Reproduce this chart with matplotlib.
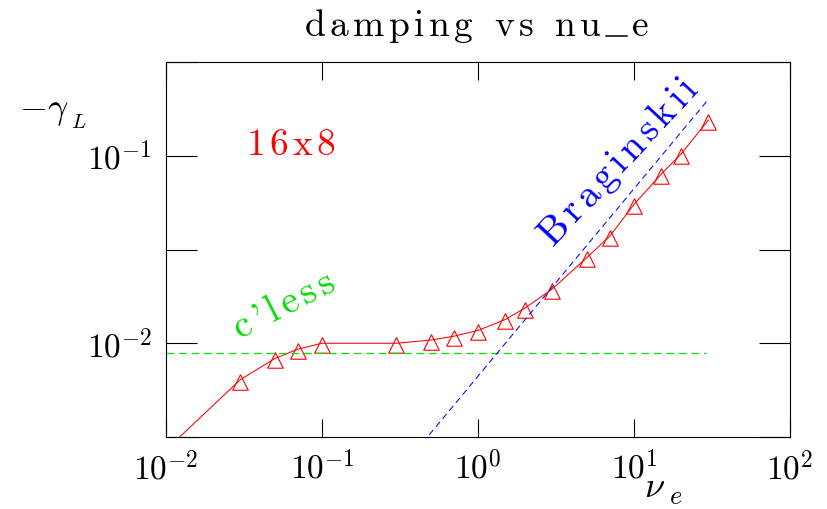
import numpy as np
import matplotlib
matplotlib.use("Agg")
import matplotlib.pyplot as plt
from matplotlib.font_manager import FontProperties, findfont, get_font
from matplotlib.transforms import IdentityTransform
from matplotlib.lines import Line2D
from matplotlib.ticker import FixedLocator, FixedFormatter, NullLocator

plt.rcParams["mathtext.fontset"] = "cm"
plt.rcParams["font.family"] = "cmr10"
plt.rcParams["axes.formatter.use_mathtext"] = True
plt.rcParams["lines.scale_dashes"] = False

# Landau damping rate of the 16x8 run versus electron collision frequency
nu_e = [0.01, 0.03, 0.05, 0.07, 0.1, 0.3, 0.5, 0.7, 1.0, 1.5, 2.0,
        3.0, 5.0, 7.0, 10.0, 15.0, 20.0, 30.0]
gamma = [0.0027, 0.0064, 0.0083, 0.0093, 0.0100, 0.0100, 0.0104, 0.0109,
         0.0117, 0.0134, 0.0154, 0.0195, 0.0287, 0.0373, 0.055, 0.080,
         0.102, 0.155]

# collisionless limit
cless_x = [0.01, 29.0]
cless_y = [0.00885, 0.00885]

# Braginskii (collisional) scaling
brag_x = [0.4, 30.0]
brag_y = [0.00267, 0.2]

xticks = [1e-2, 1e-1, 1e0, 1e1, 1e2]
xlabels = [r"$10^{-2}$", r"$10^{-1}$", r"$10^{0}$", r"$10^{1}$", r"$10^{2}$"]
yticks = [10 ** -2.5, 1e-2, 10 ** -1.5, 1e-1, 10 ** -0.5]
ylabels = ["", r"$10^{-2}$", "", r"$10^{-1}$", ""]

RED, GREEN, BLUE = "#ff0000", "#00e000", "#0000ff"

W, H = 828, 509
fig = plt.figure(figsize=(W / 100, H / 100), dpi=100)
ax = fig.add_axes([166 / W, 1 - 437 / H, (790 - 166) / W, (437 - 62) / H])
ax.set_xscale("log")
ax.set_yscale("log")
ax.set_xlim(1e-2, 1e2)
ax.set_ylim(10 ** -2.5, 10 ** -0.5)

# open triangles, centred slightly above the triangle's middle
tri = [(0.0, 0.75), (-1.0, -1.25), (1.0, -1.25), (0.0, 0.75)]
ax.plot(nu_e, gamma, color=RED, lw=0.75, marker=tri, ms=14,
        mfc="none", mec=RED, mew=0.8)
ax.plot(cless_x, cless_y, color=GREEN, lw=0.9, dashes=(5.5, 3.5))
ax.plot(brag_x, brag_y, color=BLUE, lw=0.75, dashes=(4.5, 3.0))

ax.xaxis.set_major_locator(FixedLocator(xticks))
ax.xaxis.set_major_formatter(FixedFormatter(xlabels))
ax.yaxis.set_major_locator(FixedLocator(yticks))
ax.yaxis.set_major_formatter(FixedFormatter(ylabels))
ax.xaxis.set_minor_locator(NullLocator())
ax.yaxis.set_minor_locator(NullLocator())
ax.tick_params(axis="both", which="major", direction="in", top=True,
               right=True, width=0.8, color="black", labelsize=24)
ax.tick_params(axis="x", length=13, pad=9.5)
ax.tick_params(axis="y", length=22, pad=10)
for sp in ax.spines.values():
    sp.set_linewidth(0.8)
    sp.set_color("black")


def tracked_text(xy, text, transform, size, color, tracking,
                 rotation=0.0, ha="left"):
    """Draw text one glyph at a time with extra letter spacing (pixels)."""
    fp = FontProperties(family="cmr10", size=size)
    font = get_font(findfont(fp))
    font.set_size(size, fig.dpi)
    em = size * fig.dpi / 72.0
    adv = []
    for ch in text:
        if ch == "_":
            adv.append(0.58 * em)
        else:
            adv.append(font.load_char(ord(ch)).linearHoriAdvance / 65536.0)
    adv = np.array(adv)
    pos = np.concatenate([[0.0], np.cumsum(adv + tracking)])
    total = pos[-1] - tracking
    start = -total / 2.0 if ha == "center" else 0.0
    th = np.deg2rad(rotation)
    ux, uy = np.cos(th), np.sin(th)
    x0, y0 = transform.transform(xy)
    for ch, p, a in zip(text, pos[:-1], adv):
        d = start + p
        px, py = x0 + d * ux, y0 + d * uy
        if ch == " ":
            continue
        if ch == "_":
            fig.add_artist(Line2D([px, px + a * ux], [py, py + a * uy],
                                  transform=IdentityTransform(),
                                  color=color, lw=1.1))
            continue
        fig.text(px, py, ch, transform=IdentityTransform(), fontproperties=fp,
                 color=color, rotation=rotation, rotation_mode="anchor",
                 ha="left", va="baseline")


tracked_text((476.5, H - 36), "damping vs nu_e", IdentityTransform(), 27,
             "black", 4.5, ha="center")
tracked_text((0.033, 0.101), "16x8", ax.transData, 27, RED, 4.0)
tracked_text((0.0298, 0.0106), "c'less", ax.transData, 28, GREEN, 4.5,
             rotation=27)
tracked_text((3.03, 0.0326), "Braginskii", ax.transData, 28.5, BLUE, 4.5,
             rotation=47)

# axis labels, with the deep subscripts of the original labels
fig.text(19 / W, 1 - 118 / H, r"$-\gamma$", fontsize=26, va="baseline",
         ha="left")
fig.text(71 / W, 1 - 128 / H, r"$L$", fontsize=15, va="baseline", ha="left")
fig.text(644 / W, 1 - 497 / H, r"$\nu$", fontsize=26, va="baseline",
         ha="left")
fig.text(669 / W, 1 - 504 / H, r"$e$", fontsize=19, va="baseline", ha="left")

fig.savefig("out.png", dpi=100)
